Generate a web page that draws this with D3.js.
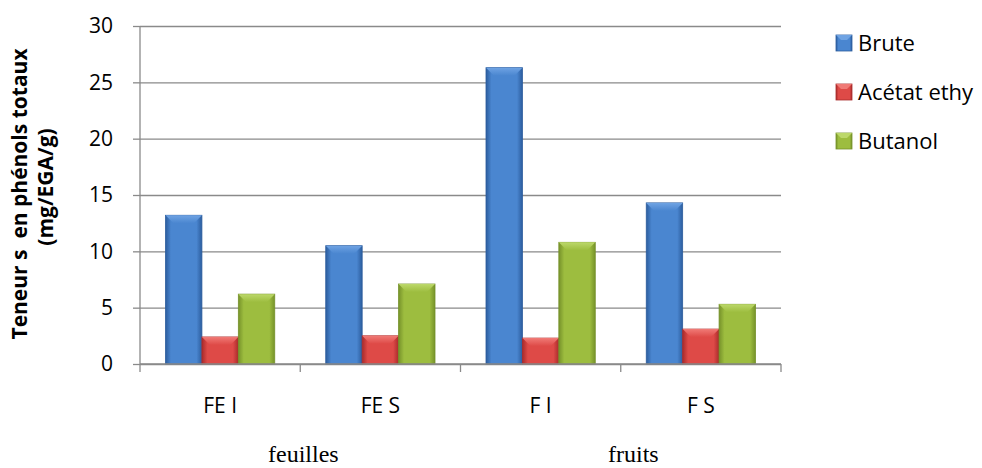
<!DOCTYPE html>
<html>
<head>
<meta charset="utf-8">
<script src="https://cdn.jsdelivr.net/npm/d3@7"></script>
<style>
  html, body { margin: 0; padding: 0; background: #fff; }
  svg { display: block; }
  text { white-space: pre; }
</style>
</head>
<body>
<svg id="chart" width="982" height="468"></svg>
<script>
// Phenol content per extract
const categories = ["FE I", "FE S", "F I", "F S"];
const seriesNames = ["Brute", "Acétat ethy", "Butanol"];
const brute   = [13.2, 10.5, 26.3, 14.3];
const acetat  = [2.4, 2.5, 2.3, 3.1];
const butanol = [6.2, 7.1, 10.8, 5.3];
const yTicks = [0, 5, 10, 15, 20, 25, 30];
const groupLabels = ["feuilles", "fruits"];
const yTitle = ["Teneur s  en phénols totaux", "(mg/EGA/g)"];

const seriesValues = [brute, acetat, butanol];
const palette = [
  { edge: "#2c5d9e", mid: "#4a86d0", top: "#6fa3e3" },
  { edge: "#a92b2b", mid: "#de4a47", top: "#f07a76" },
  { edge: "#76922a", mid: "#9dbd3f", top: "#bcd86a" }
];

const svg = d3.select("#chart");
const plot = { left: 140, right: 781, top: 26, bottom: 364 };

const x = d3.scaleBand().domain(categories).range([plot.left, plot.right]).paddingInner(0).paddingOuter(0);
const xs = d3.scaleBand().domain(seriesNames).range([0, x.bandwidth()]).paddingInner(0).paddingOuter(0.7);
const y = d3.scaleLinear().domain([0, 30]).range([plot.bottom, plot.top]);

// gradients for bevelled bars
const defs = svg.append("defs");
palette.forEach((p, i) => {
  const g = defs.append("linearGradient").attr("id", "bar" + i).attr("x1", 0).attr("x2", 1).attr("y1", 0).attr("y2", 0);
  g.append("stop").attr("offset", "0%").attr("stop-color", p.edge);
  g.append("stop").attr("offset", "15%").attr("stop-color", p.mid);
  g.append("stop").attr("offset", "85%").attr("stop-color", p.mid);
  g.append("stop").attr("offset", "100%").attr("stop-color", p.edge);
  const t = defs.append("linearGradient").attr("id", "top" + i).attr("x1", 0).attr("x2", 0).attr("y1", 0).attr("y2", 1);
  t.append("stop").attr("offset", "0%").attr("stop-color", p.top);
  t.append("stop").attr("offset", "100%").attr("stop-color", p.mid);
});

// gridlines
svg.append("g")
  .attr("transform", `translate(${plot.left},0)`)
  .call(d3.axisLeft(y).tickValues(yTicks).tickSize(-(plot.right - plot.left)).tickFormat(""))
  .call(g => g.select(".domain").remove())
  .call(g => g.selectAll("line").attr("stroke", "#8a8a8a").attr("stroke-width", 1.3));

// y axis
const yAxis = svg.append("g")
  .attr("transform", `translate(${plot.left},0)`)
  .call(d3.axisLeft(y).tickValues(yTicks).tickSize(7).tickPadding(20).tickFormat(d3.format("d")));
yAxis.select(".domain").attr("stroke", "#8a8a8a").attr("stroke-width", 1.3).attr("d", `M0,${plot.top}V${plot.bottom}`);
yAxis.selectAll("line").attr("stroke", "#8a8a8a").attr("stroke-width", 1.3);
yAxis.selectAll("text").attr("font-family", "'Open Sans', sans-serif").attr("font-size", 21).attr("fill", "#000");

// bars
const barG = svg.append("g");
categories.forEach((c, ci) => {
  seriesNames.forEach((s, si) => {
    const v = seriesValues[si][ci];
    const bx = x(c) + xs(s);
    const bw = xs.bandwidth();
    const by = y(v);
    const bh = y(0) - by;
    const g = barG.append("g");
    g.append("rect").attr("x", bx).attr("y", by).attr("width", bw).attr("height", bh)
      .attr("fill", `url(#bar${si})`).attr("stroke", palette[si].edge).attr("stroke-width", 0.8);
    const bev = Math.min(8, bh / 2);
    g.append("path")
      .attr("d", `M${bx},${by}H${bx + bw}L${bx + bw - bev},${by + bev}H${bx + bev}Z`)
      .attr("fill", `url(#top${si})`);
  });
});

// x axis
const xAxis = svg.append("g").attr("transform", `translate(0,${plot.bottom})`);
xAxis.append("path").attr("d", `M${plot.left},0H${plot.right}`).attr("stroke", "#8a8a8a").attr("stroke-width", 1.3);
const bounds = categories.map(c => x(c)).concat([x(categories[categories.length - 1]) + x.bandwidth()]);
xAxis.selectAll("line.tk").data(bounds).enter().append("line")
  .attr("x1", d => d).attr("x2", d => d).attr("y1", 0).attr("y2", 8)
  .attr("stroke", "#8a8a8a").attr("stroke-width", 1.3);
xAxis.selectAll("text.cat").data(categories).enter().append("text")
  .attr("x", d => x(d) + x.bandwidth() / 2).attr("y", 49)
  .attr("text-anchor", "middle")
  .attr("font-family", "'Open Sans', sans-serif").attr("font-size", 21)
  .text(d => d);

// group labels
const groupX = [268, 608];
svg.selectAll("text.grp").data(groupLabels).enter().append("text")
  .attr("x", (d, i) => groupX[i]).attr("y", 462)
  .attr("font-family", "'Liberation Serif', 'Times New Roman', serif").attr("font-size", 24)
  .text(d => d);

// y title
const yt = svg.append("text")
  .attr("transform", "translate(0,194) rotate(-90)")
  .attr("text-anchor", "middle")
  .attr("font-family", "'Open Sans', sans-serif").attr("font-weight", "bold").attr("font-size", 21);
yt.append("tspan").attr("x", 0).attr("y", 27).text(yTitle[0]);
yt.append("tspan").attr("x", 7).attr("y", 53).text(yTitle[1]);

// legend
const legend = svg.append("g").attr("transform", "translate(836,35)");
seriesNames.forEach((s, i) => {
  const g = legend.append("g").attr("transform", `translate(0,${i * 49})`);
  g.append("rect").attr("width", 16).attr("height", 16).attr("fill", `url(#bar${i})`).attr("stroke", palette[i].edge).attr("stroke-width", 0.8);
  g.append("path").attr("d", "M0,0H16L11,5H5Z").attr("fill", palette[i].top);
  g.append("text").attr("x", 22).attr("y", 16)
    .attr("font-family", "'Open Sans', sans-serif").attr("font-size", 22)
    .text(s);
});
</script>
</body>
</html>
